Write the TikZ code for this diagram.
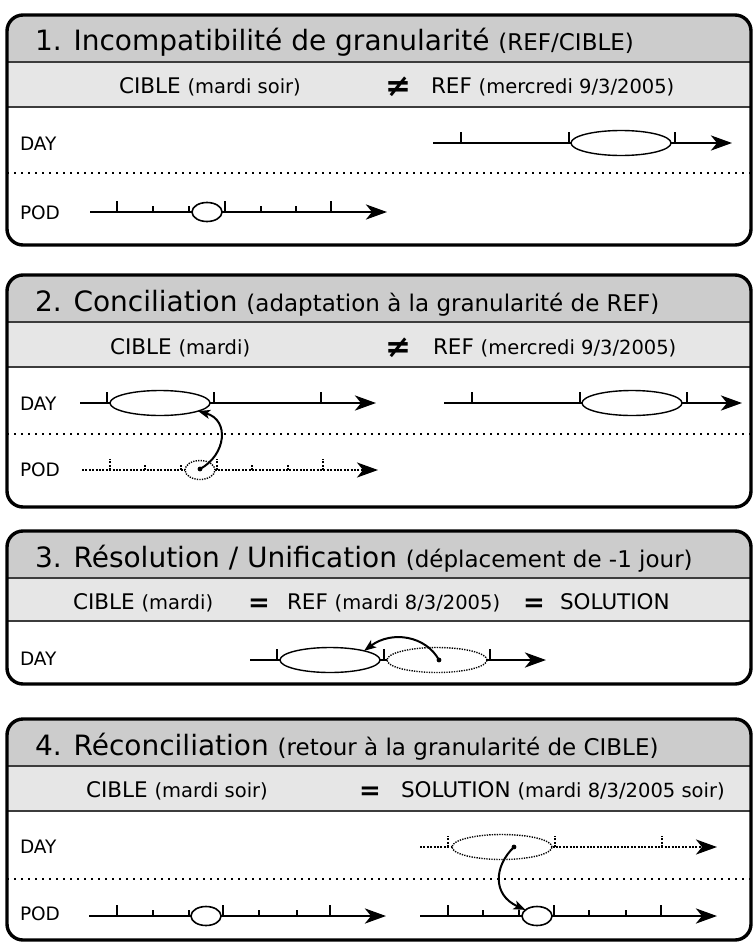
\documentclass[tikz,border=0pt]{standalone}
\usepackage{fontspec}
\setmainfont{DejaVu Sans}
\usetikzlibrary{arrows.meta,shapes.geometric}
\newcommand\subsz{\fontsize{23}{25}\selectfont}
\newcommand\parsz{\fontsize{19.5}{22}\selectfont}
\definecolor{hdrgray}{RGB}{204,204,204}
\definecolor{subgray}{RGB}{230,230,230}
\definecolor{linegray}{RGB}{60,60,60}
\begin{document}
\begin{tikzpicture}[x=1pt,y=-1pt,
  every node/.style={inner sep=0pt,outer sep=0pt},
  ttl/.style={anchor=base west,font=\fontsize{28}{30}\selectfont},
  shd/.style={anchor=base west,font=\fontsize{21.5}{24}\selectfont},
  rel/.style={anchor=base,font=\fontsize{26}{28}\selectfont\bfseries},
  neq/.style={anchor=base,font=\fontsize{31}{33}\selectfont\bfseries},
  lbl/.style={anchor=base west,font=\fontsize{18.5}{20}\selectfont},
  panelframe/.style={line width=3.4pt,rounded corners=16pt},
  bandline/.style={line width=1.5pt,draw=linegray},
  sepline/.style={line width=2.4pt,dash pattern=on 2.4pt off 4.6pt},
  axis/.style={line width=2.9pt,-{Stealth[length=21pt,width=15pt,inset=6pt]}},
  dotaxis/.style={line width=2.5pt,dash pattern=on 2pt off 1.4pt,-{Stealth[length=21pt,width=15pt,inset=6pt,sep=0pt]}},
  tk/.style={line width=2.5pt},
  dottk/.style={line width=2.5pt,dash pattern=on 2pt off 1.4pt},
  dayell/.style={ellipse,draw,fill=white,line width=1.4pt,minimum width=100pt,minimum height=25pt},
  dotdayell/.style={ellipse,draw,fill=white,line width=1.4pt,dash pattern=on 1.3pt off 1.2pt,minimum width=100pt,minimum height=25pt},
  podell/.style={ellipse,draw,fill=white,line width=1.6pt,minimum width=30pt,minimum height=19pt},
  dotpodell/.style={ellipse,draw,fill=white,line width=1.4pt,dash pattern=on 1.3pt off 1.2pt,minimum width=30pt,minimum height=19pt},
  curvearrow/.style={line width=2pt,-{Stealth[length=12pt,width=9pt,inset=3pt]}},
]
\useasboundingbox (0,0) rectangle (753,942);

% ================= PANEL 1 =================
\begin{scope}
\clip[rounded corners=16pt] (7,15) rectangle (751,245);
\fill[hdrgray] (7,15) rectangle (751,62);
\fill[subgray] (7,62) rectangle (751,107);
\end{scope}
\draw[bandline] (7,62) -- (751,62);
\draw[bandline] (7,107) -- (751,107);
\draw[panelframe] (7,15) rectangle (751,245);
\node[ttl] (t1) at (35,51) {1. Incompatibilité de granularité {\subsz (REF/CIBLE)}};
\node[shd] (c1) at (119,93) {CIBLE {\parsz (mardi soir)}};
\node[neq] (n1) at (398,96) {≠};
\node[shd] (r1) at (431,93) {REF {\parsz (mercredi 9/3/2005)}};
\node[lbl] (d1) at (20,150) {DAY};
\node[lbl] (p1) at (20,219) {POD};
\draw[sepline] (7,173) -- (751,173);
% DAY axis
\coordinate (a1s) at (433,143);
\coordinate (a1e) at (732,143);
\draw[axis] (a1s) -- (a1e);
\node[dayell] (e1) at (621,143) {};
\foreach \x in {461,569,675} \draw[tk] (\x,143) -- ++(0,-11);
% POD axis
\coordinate (b1s) at (90,212);
\coordinate (b1e) at (387,212);
\draw[axis] (b1s) -- (b1e);
\node[podell] (o1) at (207,212) {};
\foreach \x in {117,225,331} \draw[tk] (\x,212) -- ++(0,-11);
\foreach \x in {153,189,261,296} \draw[tk] (\x,212) -- ++(0,-6);

% ================= PANEL 2 =================
\begin{scope}
\clip[rounded corners=16pt] (7,275) rectangle (751,507);
\fill[hdrgray] (7,275) rectangle (751,322);
\fill[subgray] (7,322) rectangle (751,367);
\end{scope}
\draw[bandline] (7,322) -- (751,322);
\draw[bandline] (7,367) -- (751,367);
\draw[panelframe] (7,275) rectangle (751,507);
\node[ttl] (t2) at (35,311) {2. Conciliation {\subsz (adaptation à la granularité de REF)}};
\node[shd] (c2) at (110,354) {CIBLE {\parsz (mardi)}};
\node[neq] (n2) at (398,357) {≠};
\node[shd] (r2) at (433,354) {REF {\parsz (mercredi 9/3/2005)}};
\node[lbl] (d2) at (20,410) {DAY};
\node[lbl] (p2) at (20,476) {POD};
\draw[sepline] (7,434) -- (751,434);
% left DAY axis
\coordinate (a2s) at (80,403);
\coordinate (a2e) at (376,403);
\draw[axis] (a2s) -- (a2e);
\node[dayell] (e2) at (160,403) {};
\foreach \x in {107,214,321} \draw[tk] (\x,403) -- ++(0,-11);
% right DAY axis
\coordinate (a2rs) at (444,403);
\coordinate (a2re) at (742,403);
\draw[axis] (a2rs) -- (a2re);
\node[dayell] (e2r) at (632,403) {};
\foreach \x in {472,580,687} \draw[tk] (\x,403) -- ++(0,-11);
% dotted POD axis
\coordinate (b2s) at (82,470);
\coordinate (b2e) at (378,470);
\draw[dotaxis] (b2s) -- (b2e);
\node[dotpodell] (o2) at (200,470) {};
\foreach \x in {110,217,323} \draw[dottk] (\x,470) -- ++(0,-11);
\foreach \x in {145,181,252,288} \draw[dottk] (\x,470) -- ++(0,-6);
\coordinate (q2) at (200,469);
\fill (q2) circle (2.4pt);
\draw[curvearrow] (q2) .. controls (226,455) and (230,420) .. (e2.-12);

% ================= PANEL 3 =================
\begin{scope}
\clip[rounded corners=16pt] (7,531) rectangle (751,684);
\fill[hdrgray] (7,531) rectangle (751,578);
\fill[subgray] (7,578) rectangle (751,621);
\end{scope}
\draw[bandline] (7,578) -- (751,578);
\draw[bandline] (7,621) -- (751,621);
\draw[panelframe] (7,531) rectangle (751,684);
\node[ttl] (t3) at (35,567) {3. Résolution / Unification {\subsz (déplacement de -1 jour)}};
\node[shd] (c3) at (73,609) {CIBLE {\parsz (mardi)}};
\node[rel] (n3a) at (259,611) {=};
\node[shd] (r3) at (287,609) {REF {\parsz (mardi 8/3/2005)}};
\node[rel] (n3b) at (534,611) {=};
\node[shd] (s3) at (560,609) {SOLUTION};
\node[lbl] (d3) at (20,665) {DAY};
\coordinate (a3s) at (250,660);
\coordinate (a3e) at (546,660);
\draw[axis] (a3s) -- (a3e);
\node[dayell] (e3) at (330,660) {};
\node[dotdayell] (f3) at (437,660) {};
\foreach \x in {277,384,490} \draw[tk] (\x,660) -- ++(0,-11);
\coordinate (q3) at (439,660);
\fill (q3) circle (2.4pt);
\draw[curvearrow] (q3) .. controls (426,636) and (392,630) .. (e3.15);

% ================= PANEL 4 =================
\begin{scope}
\clip[rounded corners=16pt] (7,719) rectangle (751,940);
\fill[hdrgray] (7,719) rectangle (751,766);
\fill[subgray] (7,766) rectangle (751,811);
\end{scope}
\draw[bandline] (7,766) -- (751,766);
\draw[bandline] (7,811) -- (751,811);
\draw[panelframe] (7,719) rectangle (751,940);
\node[ttl] (t4) at (35,755) {4. Réconciliation {\subsz (retour à la granularité de CIBLE)}};
\node[shd] (c4) at (86,797) {CIBLE {\parsz (mardi soir)}};
\node[rel] (n4) at (370,799) {=};
\node[shd] (s4) at (401,797) {SOLUTION {\parsz (mardi 8/3/2005 soir)}};
\node[lbl] (d4) at (20,853) {DAY};
\node[lbl] (p4) at (20,920) {POD};
\draw[sepline] (7,879) -- (751,879);
% dotted DAY axis
\coordinate (a4s) at (420,847);
\coordinate (a4e) at (717,847);
\draw[dotaxis] (a4s) -- (a4e);
\node[dotdayell] (e4) at (502,847) {};
\foreach \x in {448,555,662} \draw[dottk] (\x,847) -- ++(0,-11);
% left POD axis
\coordinate (b4s) at (89,916);
\coordinate (b4e) at (386,916);
\draw[axis] (b4s) -- (b4e);
\node[podell] (o4) at (206,916) {};
\foreach \x in {117,223,330} \draw[tk] (\x,916) -- ++(0,-11);
\foreach \x in {153,189,259,297} \draw[tk] (\x,916) -- ++(0,-6);
% right POD axis
\coordinate (b4rs) at (420,916);
\coordinate (b4re) at (717,916);
\draw[axis] (b4rs) -- (b4re);
\node[podell] (o4r) at (537,916) {};
\foreach \x in {448,554,661} \draw[tk] (\x,916) -- ++(0,-11);
\foreach \x in {483,519,589,626} \draw[tk] (\x,916) -- ++(0,-6);
\coordinate (q4) at (514,847);
\fill (q4) circle (2.4pt);
\draw[curvearrow] (q4) .. controls (494,866) and (492,895) .. (o4r.152);
\end{tikzpicture}
\end{document}
